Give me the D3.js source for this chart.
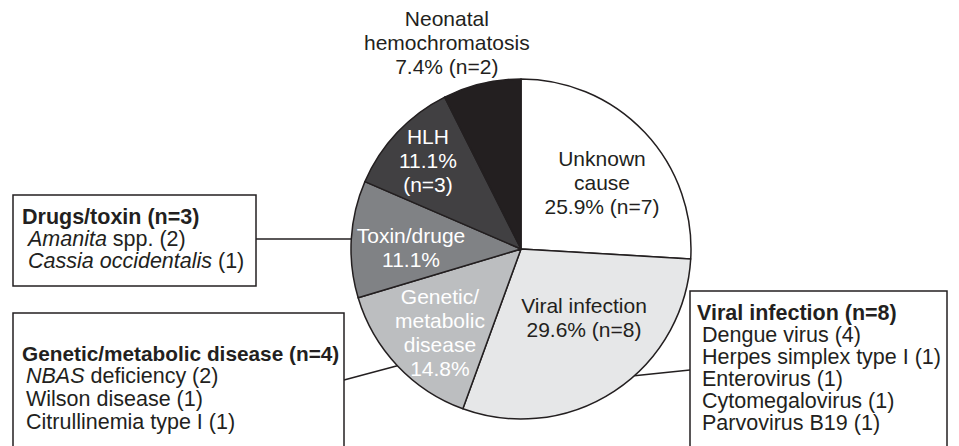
<!DOCTYPE html>
<html>
<head>
<meta charset="utf-8">
<script src="https://cdn.jsdelivr.net/npm/d3@7"></script>
<style>
  body { margin: 0; background: #fff; }
  svg { display: block; font-family: "Liberation Sans", Arial, sans-serif; }
</style>
</head>
<body>
<div id="chart"></div>
<script>
// data
const causes = ['Unknown cause', 'Viral infection', 'Genetic/metabolic disease', 'Toxin/druge', 'HLH', 'Neonatal hemochromatosis'];
const counts = [7, 8, 4, 3, 3, 2];
const sliceLabels = [
  ['Unknown', 'cause', '25.9% (n=7)'],
  ['Viral infection', '29.6% (n=8)'],
  ['Genetic/', 'metabolic', 'disease', '14.8%'],
  ['Toxin/druge', '11.1%'],
  ['HLH', '11.1%', '(n=3)'],
  ['Neonatal', 'hemochromatosis', '7.4% (n=2)']
];
const boxTitles = ['Drugs/toxin (n=3)', 'Genetic/metabolic disease (n=4)', 'Viral infection (n=8)'];
// [italic part, plain part]
const drugItems = [['Amanita', ' spp. (2)'], ['Cassia occidentalis', ' (1)']];
const geneticItems = [['NBAS', ' deficiency (2)'], ['', 'Wilson disease (1)'], ['', 'Citrullinemia type I (1)']];
const viralItems = [['', 'Dengue virus (4)'], ['', 'Herpes simplex type I (1)'], ['', 'Enterovirus (1)'], ['', 'Cytomegalovirus (1)'], ['', 'Parvovirus B19 (1)']];

// styling / layout
const w = 959, h = 446;
const cx = 521, cy = 249, R = 170;
const fills = ['#ffffff', '#e6e7e8', '#bcbec0', '#808285', '#414042', '#231f20'];
const textFills = ['#231f20', '#231f20', '#ffffff', '#ffffff', '#ffffff', '#231f20'];
const ink = '#231f20';
// label centre as [distance from centre, angle in degrees clockwise from top]
const labelPolar = [[104.5, 50.8], [92.7, 137.2], [116.7, 224], [110, 270.8], [128.7, 313.7], [219, 340.2]];

const boxes = [
  { x: 13, y: 195, w: 243, h: 91, titleX: 22, itemX: 28, base: 223.5, step: 22, titleSize: 21.5, items: drugItems, slice: 3, lineY: null, angleShift: 0 },
  { x: 13, y: 313, w: 331, h: 200, titleX: 22, itemX: 26, base: 360.5, step: 22.7, titleSize: 20.8, items: geneticItems, slice: 2, lineY: 380, angleShift: 0 },
  { x: 690, y: 291, w: 257, h: 200, titleX: 697, itemX: 702, base: 319.5, step: 22, titleSize: 21.5, items: viralItems, slice: 1, lineY: 370, angleShift: -8.5 }
];

const svg = d3.select('#chart')
  .append('svg')
  .attr('width', w)
  .attr('height', h);

const pie = d3.pie().sort(null).value(d => d);
const arcs = pie(counts);
const arc = d3.arc().innerRadius(0).outerRadius(R);

const g = svg.append('g').attr('transform', 'translate(' + cx + ',' + cy + ')');

g.selectAll('path')
  .data(arcs)
  .enter()
  .append('path')
  .attr('d', arc)
  .attr('fill', (d, i) => fills[i])
  .attr('stroke', ink)
  .attr('stroke-width', 1.5)
  .attr('stroke-linejoin', 'round');

const rad = a => a * Math.PI / 180;
const polar = (r, a) => [r * Math.sin(a), -r * Math.cos(a)];

// slice labels
const lh = 24;
arcs.forEach((d, i) => {
  const [lx, ly] = polar(labelPolar[i][0], rad(labelPolar[i][1]));
  const lines = sliceLabels[i];
  const t = g.append('text')
    .attr('text-anchor', 'middle')
    .attr('font-size', 21)
    .attr('fill', textFills[i]);
  lines.forEach((s, j) => {
    t.append('tspan')
      .attr('x', lx)
      .attr('y', ly + 7.5 - (lines.length - 1) * lh / 2 + j * lh)
      .text(s);
  });
});

// callout boxes + connectors
boxes.forEach((b, k) => {
  const s = arcs[b.slice];
  const a = (s.startAngle + s.endAngle) / 2 + rad(b.angleShift);
  const [px, py] = polar(R, a);
  const ex = b.x < cx ? b.x + b.w : b.x;
  const ey = b.lineY === null ? cy + py : b.lineY;
  svg.append('line')
    .attr('x1', cx + px).attr('y1', cy + py)
    .attr('x2', ex).attr('y2', ey)
    .attr('stroke', ink)
    .attr('stroke-width', 1.5);

  svg.append('rect')
    .attr('x', b.x).attr('y', b.y)
    .attr('width', b.w).attr('height', b.h)
    .attr('fill', '#fff')
    .attr('stroke', ink)
    .attr('stroke-width', 1.5);

  svg.append('text')
    .attr('x', b.titleX).attr('y', b.base)
    .attr('font-size', b.titleSize)
    .attr('font-weight', 'bold')
    .attr('fill', ink)
    .text(boxTitles[k]);

  b.items.forEach((it, j) => {
    const t = svg.append('text')
      .attr('x', b.itemX).attr('y', b.base + (j + 1) * b.step)
      .attr('font-size', 21.5)
      .attr('fill', ink);
    if (it[0]) t.append('tspan').attr('font-style', 'italic').text(it[0]);
    t.append('tspan').text(it[1]);
  });
});
</script>
</body>
</html>
